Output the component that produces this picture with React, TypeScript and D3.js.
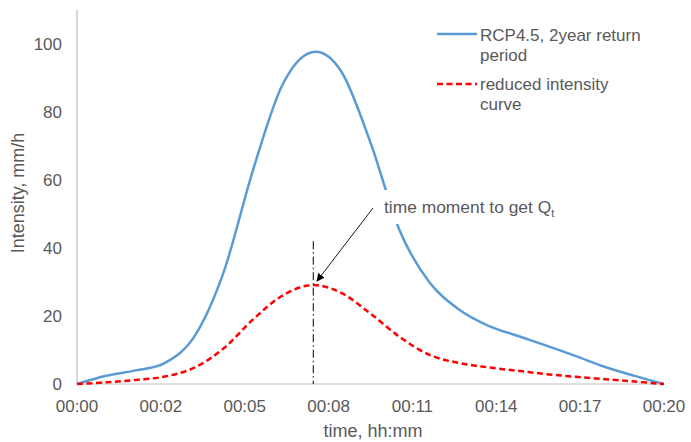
import React from "react";
import * as d3 from "d3";

const minutes = d3.range(0, 21);
const rcpValues = [0, 2.4, 4.0, 6.2, 14, 33, 63, 88, 97.6, 92, 71, 45, 30, 22, 17.2, 14.2, 11.3, 8.2, 5.0, 2.4, 0];
const reducedValues = [0, 0.5, 1.2, 2.2, 4.8, 10.5, 19, 26, 29.1, 26.8, 20.7, 13.8, 8.6, 6.2, 4.9, 3.9, 2.9, 2.1, 1.4, 0.7, 0];
const xTickLabels = ["00:00", "00:02", "00:05", "00:08", "00:11", "00:14", "00:17", "00:20"];
const yTicks = [0, 20, 40, 60, 80, 100];
const markerTime = 8.05;
const markerTop = 42;

const W = 691;
const H = 442;
const FONT = "'Liberation Sans', Arial, sans-serif";
const TXT = "#595959";

export default function App() {
  const x = d3.scaleLinear().domain([0, 20]).range([77, 664]);
  const y = d3.scaleLinear().domain([0, 110]).range([384, 10]);
  const line = d3
    .line<number>()
    .x((_, i) => x(minutes[i]))
    .y((d) => y(Math.max(0, d)))
    .curve(d3.curveCardinal.tension(0));
  const xTickVals = xTickLabels.map((_, i) => (i * 20) / (xTickLabels.length - 1));

  return (
    <svg width={W} height={H} style={{ position: "absolute", left: 0, top: 0, background: "#fff" }} fontFamily={FONT}>
      <defs>
        <marker id="arr" viewBox="0 0 10 10" refX="9" refY="5" markerWidth="8" markerHeight="8" orient="auto" markerUnits="userSpaceOnUse">
          <path d="M0,0 L10,5 L0,10 z" fill="#000" />
        </marker>
      </defs>
      {/* axes */}
      <line x1={x(0)} x2={x(0)} y1={y(110)} y2={y(0)} stroke="#BFBFBF" strokeWidth={1.2} />
      <line x1={x(0)} x2={x(20)} y1={y(0)} y2={y(0)} stroke="#BFBFBF" strokeWidth={1.2} />
      {yTicks.map((t) => (
        <text key={t} x={62} y={y(t) + 6} textAnchor="end" fontSize={17} fill={TXT}>
          {t}
        </text>
      ))}
      {xTickVals.map((v, i) => (
        <text key={i} x={x(v)} y={412} textAnchor="middle" fontSize={17} fill={TXT}>
          {xTickLabels[i]}
        </text>
      ))}
      <text x={373} y={437} textAnchor="middle" fontSize={18} fill={TXT}>
        time, hh:mm
      </text>
      <text transform={`translate(24,193) rotate(-90)`} textAnchor="middle" fontSize={18} fill={TXT}>
        Intensity, mm/h
      </text>
      {/* series */}
      <path d={line(rcpValues) || ""} fill="none" stroke="#5B9BD5" strokeWidth={2.5} />
      <path d={line(reducedValues) || ""} fill="none" stroke="#FF0000" strokeWidth={2.5} strokeDasharray="6 3.5" />
      {/* annotation */}
      <line x1={x(markerTime)} x2={x(markerTime)} y1={y(markerTop)} y2={y(0)} stroke="#000" strokeWidth={1} strokeDasharray="8 3 1.5 3" />
      <rect x={379} y={190} width={190} height={34} fill="#fff" />
      <text x={384} y={213} fontSize={17.4} fill={TXT}>
        time moment to get Q<tspan fontSize={11} dy={4}>t</tspan>
      </text>
      <line x1={373} y1={208} x2={317} y2={281} stroke="#000" strokeWidth={0.9} markerEnd="url(#arr)" />
      {/* legend */}
      <line x1={437} x2={477} y1={34} y2={34} stroke="#5B9BD5" strokeWidth={2.5} />
      <text x={480} y={41} fontSize={17} fill={TXT}>RCP4.5, 2year return</text>
      <text x={480} y={61} fontSize={17} fill={TXT}>period</text>
      <line x1={437} x2={477} y1={84} y2={84} stroke="#FF0000" strokeWidth={2.5} strokeDasharray="6 3.5" />
      <text x={480} y={90} fontSize={17} fill={TXT}>reduced intensity</text>
      <text x={480} y={110} fontSize={17} fill={TXT}>curve</text>
    </svg>
  );
}
